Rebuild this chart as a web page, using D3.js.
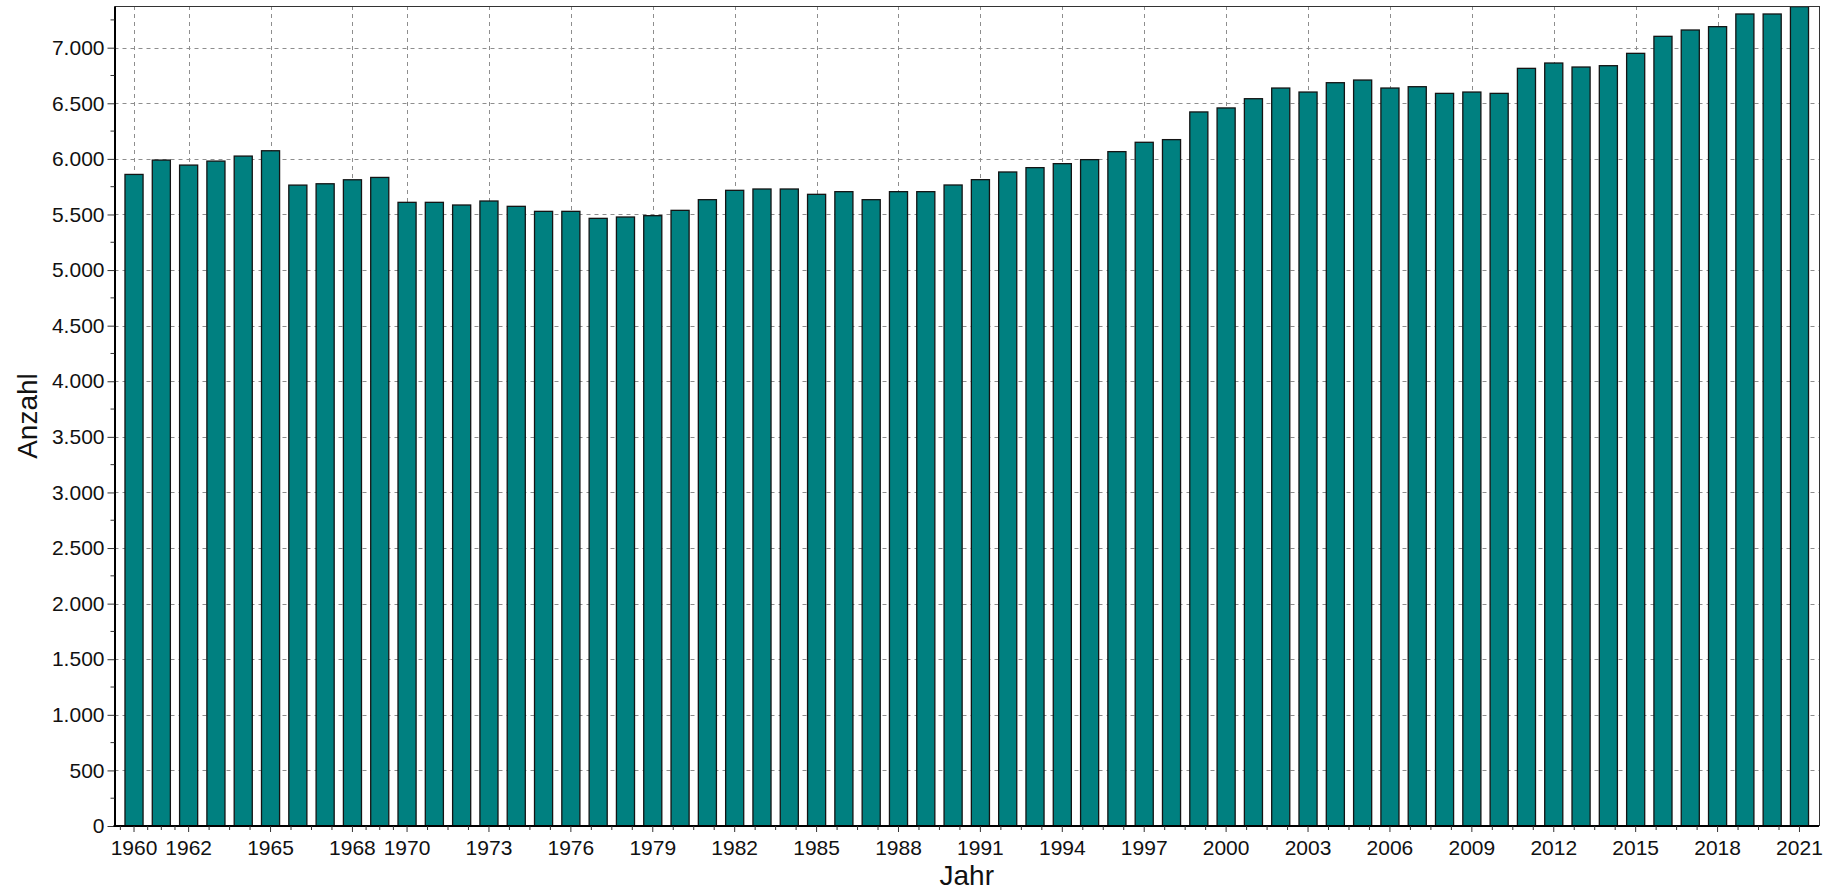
<!DOCTYPE html>
<html>
<head>
<meta charset="utf-8">
<script src="https://cdn.jsdelivr.net/npm/d3@7"></script>
<style>
  html, body { margin: 0; padding: 0; background: #fff; }
  svg { display: block; font-family: "Liberation Sans", Arial, sans-serif; }
</style>
</head>
<body>
<svg id="chart" width="1838" height="892"></svg>
<script>
// Anzahl per Jahr, 1960–2021
const years = [
  1960, 1961, 1962, 1963, 1964, 1965, 1966, 1967, 1968, 1969,
  1970, 1971, 1972, 1973, 1974, 1975, 1976, 1977, 1978, 1979,
  1980, 1981, 1982, 1983, 1984, 1985, 1986, 1987, 1988, 1989,
  1990, 1991, 1992, 1993, 1994, 1995, 1996, 1997, 1998, 1999,
  2000, 2001, 2002, 2003, 2004, 2005, 2006, 2007, 2008, 2009,
  2010, 2011, 2012, 2013, 2014, 2015, 2016, 2017, 2018, 2019,
  2020, 2021
];
const counts = [
  5866, 5995, 5950, 5986, 6031, 6079, 5770, 5782, 5818, 5839,
  5615, 5615, 5591, 5627, 5579, 5534, 5534, 5471, 5483, 5495,
  5543, 5639, 5723, 5735, 5735, 5687, 5711, 5639, 5711, 5711,
  5771, 5819, 5888, 5927, 5963, 5999, 6071, 6155, 6179, 6428,
  6464, 6547, 6643, 6607, 6691, 6715, 6643, 6655, 6595, 6607,
  6595, 6820, 6868, 6832, 6844, 6955, 7108, 7165, 7195, 7309,
  7309, 7375
];
const xTickYears = [1960, 1962, 1965, 1968, 1970, 1973, 1976, 1979, 1982, 1985, 1988,
  1991, 1994, 1997, 2000, 2003, 2006, 2009, 2012, 2015, 2018, 2021];
const yTicks = [0, 500, 1000, 1500, 2000, 2500, 3000, 3500, 4000, 4500, 5000, 5500, 6000, 6500, 7000];

const TEAL = "#008080";
const plotL = 114.5, plotR = 1819, plotT = 6, plotB = 826;

const de = d3.formatLocale({ decimal: ",", thousands: ".", grouping: [3], currency: ["", " €"] });
const fmt = de.format(",.0f");

const svg = d3.select("#chart");

const x = d3.scaleBand().domain(years).range([plotL, plotR])
  .paddingInner(0.29).paddingOuter(0.36);
const y = d3.scaleLinear().domain([0, d3.max(counts)]).range([plotB, plotT]);
const cx = (yr) => x(yr) + x.bandwidth() / 2;

// ---- grid (behind bars) ----
const grid = svg.append("g").attr("stroke", "#8e8e8e").attr("stroke-width", 1)
  .attr("stroke-dasharray", "4,4");
grid.selectAll("line.h").data(yTicks.filter((t) => t > 0)).join("line")
  .attr("x1", plotL).attr("x2", plotR)
  .attr("y1", (d) => Math.round(y(d)) + 0.5).attr("y2", (d) => Math.round(y(d)) + 0.5);
grid.selectAll("line.v").data(xTickYears).join("line")
  .attr("x1", (d) => Math.round(cx(d)) + 0.5).attr("x2", (d) => Math.round(cx(d)) + 0.5)
  .attr("y1", plotT).attr("y2", plotB);

// ---- bars ----
svg.append("g").selectAll("rect").data(years).join("rect")
  .attr("x", (d) => x(d) + 0.65)
  .attr("width", x.bandwidth() - 1.3)
  .attr("y", (d, i) => y(counts[i]) + 0.65)
  .attr("height", (d, i) => plotB - y(counts[i]) - 0.65)
  .attr("fill", TEAL)
  .attr("stroke", "#141414")
  .attr("stroke-width", 1.3);

// ---- frame ----
svg.append("line").attr("x1", plotL).attr("x2", plotR).attr("y1", plotT + 0.5).attr("y2", plotT + 0.5)
  .attr("stroke", "#333").attr("stroke-width", 1);
svg.append("line").attr("x1", plotR + 0.5).attr("x2", plotR + 0.5).attr("y1", plotT).attr("y2", plotB)
  .attr("stroke", "#333").attr("stroke-width", 1);

// ---- y axis ----
const yAxis = d3.axisLeft(y).tickValues(yTicks).tickFormat(fmt)
  .tickSize(7).tickSizeOuter(0).tickPadding(3);
const gy = svg.append("g").attr("transform", `translate(${plotL},0)`).call(yAxis);
gy.select(".domain").attr("stroke", "#000").attr("stroke-width", 2);
gy.selectAll(".tick line").attr("stroke", "#333");
gy.selectAll(".tick text").attr("font-size", 21).attr("fill", "#111")
  .attr("font-family", "Liberation Sans, Arial, sans-serif");
// minor y ticks
const yMinor = yTicks.map((t) => t + 250);
svg.append("g").selectAll("line").data(yMinor).join("line")
  .attr("x1", plotL - 4).attr("x2", plotL)
  .attr("y1", (d) => y(d)).attr("y2", (d) => y(d))
  .attr("stroke", "#333");

// ---- x axis ----
const xAxis = d3.axisBottom(x).tickValues(xTickYears).tickFormat(String)
  .tickSize(6).tickSizeOuter(0).tickPadding(8);
const gx = svg.append("g").attr("transform", `translate(0,${plotB})`).call(xAxis);
gx.select(".domain").attr("stroke", "#000").attr("stroke-width", 2)
  .attr("d", `M${plotL - 1},0H${plotR}`);
gx.selectAll(".tick line").attr("stroke", "#333");
gx.selectAll(".tick text").attr("font-size", 21).attr("fill", "#111")
  .attr("font-family", "Liberation Sans, Arial, sans-serif");
// minor x ticks: three between consecutive labelled years, one before the first
const xMinor = [];
for (let i = 0; i < xTickYears.length - 1; i++) {
  const a = cx(xTickYears[i]), b = cx(xTickYears[i + 1]);
  for (let k = 1; k <= 3; k++) xMinor.push(a + (b - a) * k / 4);
}
xMinor.unshift(cx(xTickYears[0]) - (cx(xTickYears[1]) - cx(xTickYears[0])) / 4);
svg.append("g").selectAll("line").data(xMinor.filter((p) => p > plotL && p < plotR)).join("line")
  .attr("x1", (d) => d).attr("x2", (d) => d)
  .attr("y1", plotB).attr("y2", plotB + 4)
  .attr("stroke", "#333");

// ---- axis titles ----
svg.append("text")
  .attr("transform", `translate(37,${(plotT + plotB) / 2}) rotate(-90)`)
  .attr("text-anchor", "middle")
  .attr("font-size", 28).attr("fill", "#111")
  .text("Anzahl");
svg.append("text")
  .attr("x", (plotL + plotR) / 2).attr("y", 885)
  .attr("text-anchor", "middle")
  .attr("font-size", 28).attr("fill", "#111")
  .text("Jahr");
</script>
</body>
</html>
